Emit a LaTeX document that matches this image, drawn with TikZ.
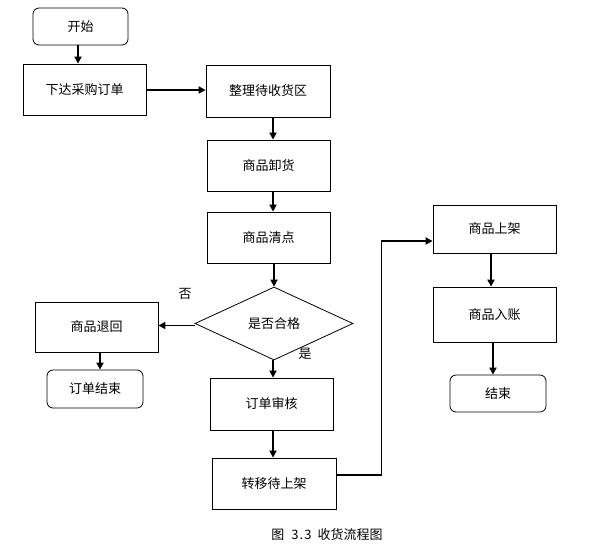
\documentclass[tikz,border=0pt]{standalone}
\usepackage{fontspec}
\setmainfont{Noto Sans CJK SC}
\usetikzlibrary{shapes.geometric,arrows.meta}
\begin{document}
\begin{tikzpicture}[x=1pt,y=-1pt,
  box/.style={draw,line width=0.8pt,inner sep=0pt,font=\fontsize{13}{15}\selectfont},
  rbox/.style={box,rounded corners=6pt},
  arr/.style={line width=1.8pt,-{Triangle[length=7pt,width=7pt]}},
  lab/.style={inner sep=0pt,font=\fontsize{13}{15}\selectfont}]
\useasboundingbox (0,0) rectangle (609,552);
\node[rbox,minimum width=95pt,minimum height=37pt] (start) at (80.5,26.5) {开始};
\node[box,minimum width=123pt,minimum height=51pt] (order) at (84.5,89.5) {下达采购订单};
\node[box,minimum width=124pt,minimum height=52pt] (area) at (268,91) {整理待收货区};
\node[box,minimum width=123pt,minimum height=51pt] (unload) at (268.5,165.5) {商品卸货};
\node[box,minimum width=123pt,minimum height=51pt] (count) at (268.5,237.5) {商品清点};
\node[draw,line width=0.8pt,diamond,inner sep=0pt,minimum width=158pt,minimum height=73pt,font=\fontsize{13}{15}\selectfont] (dia) at (274,323.5) {是否合格};
\node[box,minimum width=123pt,minimum height=50pt] (ret) at (96.5,327) {商品退回};
\node[rbox,minimum width=96pt,minimum height=38pt] (oend) at (95,389) {订单结束};
\node[box,minimum width=123pt,minimum height=52pt] (audit) at (271.5,404) {订单审核};
\node[box,minimum width=124pt,minimum height=51pt] (trans) at (274,483.5) {转移待上架};
\node[box,minimum width=123pt,minimum height=48pt] (shelf) at (494.5,229) {商品上架};
\node[box,minimum width=123pt,minimum height=55pt] (acct) at (494.5,314.5) {商品入账};
\node[rbox,minimum width=96pt,minimum height=37pt] (fin) at (498,393.5) {结束};
\node[lab] (no) at (185,294) {否};
\node[lab] (yes) at (305,354) {是};
\node[inner sep=0pt,font=\fontsize{13}{15}\selectfont] (cap) at (327,535) {图\hspace{7pt}3\hspace{1pt}.\hspace{1pt}3\hspace{6pt}收货流程图};
\coordinate (bend) at (381.5,241);
\draw[arr] ([xshift=-2.5pt]start.south) -- ([xshift=-2.5pt]start.south |- order.north);
\draw[arr] ([yshift=-0.5pt]order.east) -- ([yshift=-0.5pt]order.east -| area.west);
\draw[arr] ([xshift=5pt]area.south) -- ([xshift=5pt]area.south |- unload.north);
\draw[arr] ([xshift=4.5pt]unload.south) -- ([xshift=4.5pt]unload.south |- count.north);
\draw[arr] ([xshift=5.5pt]count.south) -- (dia.north);
\draw[arr] ([yshift=-2pt]dia.west) -- ([yshift=-2pt]dia.west -| ret.east);
\draw[arr] ([xshift=3.5pt]ret.south) -- ([xshift=3.5pt]ret.south |- oend.north);
\draw[arr] ([xshift=-1pt]dia.south) -- ([xshift=-1pt]dia.south |- audit.north);
\draw[arr] ([xshift=1.5pt]audit.south) -- ([xshift=1.5pt]audit.south |- trans.north);
\draw[arr] ([yshift=8.5pt]trans.east) -| (bend) -- (bend -| shelf.west);
\draw[arr] ([xshift=-3.5pt]shelf.south) -- ([xshift=-3.5pt]shelf.south |- acct.north);
\draw[arr] ([xshift=-1.5pt]acct.south) -- ([xshift=-1.5pt]acct.south |- fin.north);
\end{tikzpicture}
\end{document}
